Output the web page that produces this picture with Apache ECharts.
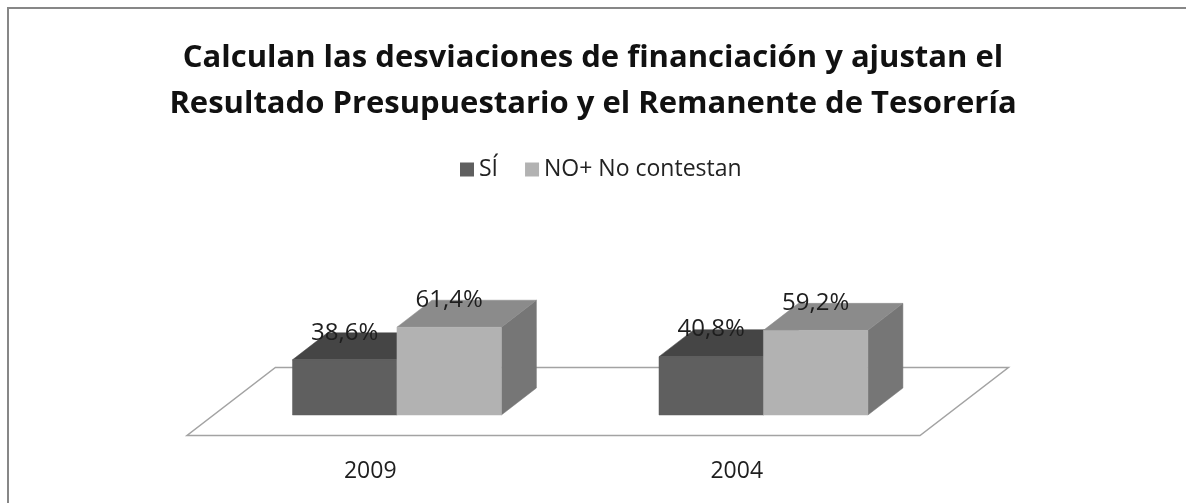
<!DOCTYPE html>
<html>
<head>
<meta charset="utf-8">
<title>Desviaciones de financiación</title>
<script src="https://cdn.jsdelivr.net/npm/echarts@6/dist/echarts.min.js"></script>
<style>
  html, body { margin: 0; padding: 0; background: #fff; }
  #charts { width: 1186px; height: 503px; }
</style>
</head>
<body>
<div id="charts"></div>
<script>
// datos del grafico
var categories = ['2009', '2004'];
var siValues = [38.6, 40.8];
var noValues = [61.4, 59.2];
var seriesNames = ['SÍ', 'NO+ No contestan'];

// perspectiva (oblicua) de las barras y del suelo
var DX = 35, DY = -27;          // profundidad de cada barra
var OX = 26.7, OY = -20.5;      // margen del suelo delante de las barras
var BAR_FRAC = 0.285;           // ancho de barra / ancho de categoria
var FONT = '"Open Sans", sans-serif';

var faces = [
	{ front: '#5f5f5f', top: '#454545', side: '#3e3e3e' },
	{ front: '#b2b2b2', top: '#8b8b8b', side: '#767676' }
];

function fmt(v) {
	return v.toFixed(1).replace('.', ',') + '%';
}

function makeBox(s) {
	return function (params, api) {
		var idx = api.value(0), val = api.value(1);
		var p = api.coord([idx, val]);
		var b = api.coord([idx, 0]);
		var w = api.size([1, 0])[0] * BAR_FRAC;
		var x0 = p[0] + OX + (s === 0 ? -w : 0);
		var x1 = x0 + w;
		var yt = p[1] + OY, yb = b[1] + OY;
		var c = faces[s];
		return {
			type: 'group',
			children: [
				{ type: 'polygon', shape: { points: [[x1, yt], [x1 + DX, yt + DY], [x1 + DX, yb + DY], [x1, yb]] },
				  style: { fill: c.side, stroke: c.side, lineWidth: 0.5 } },
				{ type: 'polygon', shape: { points: [[x0, yt], [x1, yt], [x1 + DX, yt + DY], [x0 + DX, yt + DY]] },
				  style: { fill: c.top, stroke: c.top, lineWidth: 0.5 } },
				{ type: 'rect', shape: { x: x0, y: yt, width: w, height: yb - yt },
				  style: { fill: c.front, stroke: c.front, lineWidth: 0.5 } },
				{ type: 'text', z2: 10, style: { x: x0 + w / 2, y: yt + DY, text: fmt(val),
				  align: 'center', verticalAlign: 'middle', fill: '#1e1e1e', font: '24px ' + FONT } }
			]
		};
	};
}

function renderFloor(params, api) {
	var g = params.coordSys;
	var yF = g.y + g.height;
	var ddx = 2 * OX + DX, ddy = 2 * OY + DY;
	return {
		type: 'polygon',
		shape: { points: [[g.x, yF], [g.x + g.width, yF], [g.x + g.width + ddx, yF + ddy], [g.x + ddx, yF + ddy]] },
		style: { fill: '#fff', stroke: '#a3a3a3', lineWidth: 1.5 }
	};
}

var chart = echarts.init(document.getElementById('charts'));
var option = {
	backgroundColor: '#fff',
	animation: false,
	title: {
		text: 'Calculan las desviaciones de financiación y ajustan el\nResultado Presupuestario y el Remanente de Tesorería',
		left: 'center',
		top: 30,
		textStyle: { fontFamily: FONT, fontSize: 31, fontWeight: 'bold', color: '#111', lineHeight: 46 }
	},
	legend: {
		data: seriesNames,
		left: 455,
		top: 153,
		itemWidth: 14,
		itemHeight: 14,
		itemGap: 27,
		icon: 'rect',
		textStyle: { fontFamily: FONT, fontSize: 23, color: '#222' }
	},
	graphic: [{
		type: 'rect',
		shape: { x: 8, y: 8, width: 1400, height: 700 },
		style: { fill: 'none', stroke: '#878787', lineWidth: 2 },
		silent: true
	}],
	grid: { left: 187, right: 266, top: 335.4, bottom: 67.5 },
	xAxis: {
		type: 'category',
		data: categories,
		axisLine: { show: false },
		axisTick: { show: false },
		splitLine: { show: false },
		axisLabel: { margin: 24, fontFamily: FONT, fontSize: 23, color: '#1e1e1e' }
	},
	yAxis: { type: 'value', min: 0, max: 70, show: false },
	series: [
		{ name: 'suelo', type: 'custom', renderItem: renderFloor, data: [[0, 0]], silent: true, z: 1 },
		{ name: seriesNames[0], type: 'custom', renderItem: makeBox(0), itemStyle: { color: faces[0].front },
		  data: siValues.map(function (v, i) { return [i, v]; }), encode: { x: 0, y: 1 }, z: 2 },
		{ name: seriesNames[1], type: 'custom', renderItem: makeBox(1), itemStyle: { color: faces[1].front },
		  data: noValues.map(function (v, i) { return [i, v]; }), encode: { x: 0, y: 1 }, z: 3 }
	]
};
chart.setOption(option);
</script>
</body>
</html>
